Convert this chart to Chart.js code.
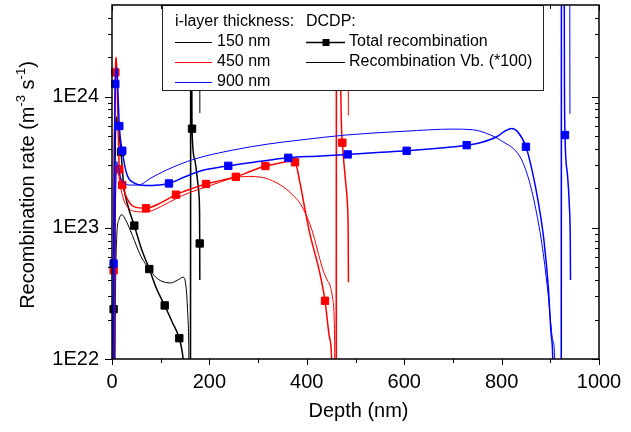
<!DOCTYPE html>
<html><head><meta charset="utf-8">
<script src="https://cdn.jsdelivr.net/npm/chart.js@4.4.1/dist/chart.umd.min.js"></script>
<style>html,body{margin:0;padding:0;background:#fff;}</style>
</head><body>
<canvas id="c" width="631" height="432"></canvas>
<script>
// ---------- DATA (depth in nm, recombination rate in m^-3 s^-1) ----------
const xTickLabels = [0, 200, 400, 600, 800, 1000];
const xMinorTicks = [100, 300, 500, 700, 900];
const yTickValues = [1e22, 1e23, 1e24];
const yTickLabels = ['1E22', '1E23', '1E24'];
const yMinorTicks = [2e22,3e22,4e22,5e22,6e22,7e22,8e22,9e22,2e23,3e23,4e23,5e23,6e23,7e23,8e23,9e23,2e24,3e24,4e24];

const seriesNames = ['150 nm', '450 nm', '900 nm'];

// 150 nm, total recombination
const depth150Total = [0,3.3,5,7,9,12,18.5,24,32,45.8,60,76.6,92,108.2,124,138.2,143,146,150,161,161.7,163.5,163.8,164.3,170,175,178.5,179.8,180.1,180.3];
const rate150Total  = [1e21,2.4e22,1.5e23,5.0e23,7.0e23,6.0e23,3.79e23,2.1e23,1.5e23,1.04e23,7.0e22,4.85e22,3.4e22,2.56e22,1.9e22,1.44e22,1.2e22,1.0e22,6e21,1e21,1e26,1e26,1.5e24,5.7e23,3.3e23,2.4e23,1.8e23,1.3e23,7.6e22,4.0e22];
const marker150 = [3.3,18.5,45.8,76.6,108.2,138.2,164.3,180.1];

// 150 nm, recombination Vb (*100)
const depth150Vb = [0,4,7,10,14,20,28,38,46,60,76.6,90,100,120,135,146,151,155,158,160,161.2,161.7,179.8,180.4];
const rate150Vb  = [1e21,1e21,3e22,9e22,1.15e23,1.26e23,1.15e23,9.5e22,8.0e22,6.0e22,4.85e22,4.2e22,3.95e22,3.8e22,4.0e22,4.2e22,3.8e22,2.4e22,1.0e22,1e21,1e21,1e26,1e26,7.5e23];

// 450 nm, total recombination
const depth450Total = [0,3.3,5,6.8,9,11.5,15,21.1,30,45,69.8,100,131.4,160,193,225,254.3,285,315,345,362,375.8,386,396,406,415,424,437.4,446,451,455,460.5,461,468,469.5,473,479,483,485,485.5];
const rate450Total  = [1e21,4.75e22,5e23,1.53e24,2.0e24,9e23,2.79e23,2.12e23,1.7e23,1.45e23,1.41e23,1.55e23,1.79e23,1.97e23,2.16e23,2.3e23,2.45e23,2.7e23,2.96e23,3.12e23,3.2e23,3.16e23,2.2e23,1.4e23,9.1e22,6.7e22,5.0e22,2.78e22,1.5e22,1.0e22,1e21,1e21,1e26,1e26,1.5e24,4.46e23,2.4e23,1.6e23,9e22,3.85e22];
const marker450 = [3.3,6.8,15,21.1,69.8,131.4,193,254.3,315,375.8,437.4,473];

// 450 nm, recombination Vb (*100)
const depth450Vb = [0,4,7,10,13,18,25,35,50,70,100,131.4,160,193,225,253,280,304,330,352,370,386,400,413,424,434,442,448,453,457,459,460.5,461,484.5,485.3];
const rate450Vb  = [1e21,1e21,1.2e23,2.8e23,2.6e23,2.0e23,1.6e23,1.4e23,1.33e23,1.32e23,1.45e23,1.67e23,1.86e23,2.05e23,2.25e23,2.42e23,2.46e23,2.44e23,2.28e23,2.05e23,1.8e23,1.54e23,1.22e23,9.0e22,6.3e22,4.7e22,4.0e22,3.6e22,2.9e22,1.5e22,1e21,1e21,1e26,1e26,7.2e23];

// 900 nm, total recombination
const depth900Total = [0,3.3,5,6.8,10,12.5,15,21.1,30,45,70,95,117,150,180,238.8,300,362,420,484,545,605,670,728.3,760,790,808,821,833,850,862,875,887,896,902,905,907,922.5,923,928,929,930.2,935,939,941,941.5];
const rate900Total  = [1e21,5.35e22,4e23,1.25e24,1.67e24,1.0e24,5.97e23,3.87e23,2.6e23,2.2e23,2.1e23,2.12e23,2.18e23,2.45e23,2.7e23,2.97e23,3.2e23,3.42e23,3.52e23,3.63e23,3.75e23,3.87e23,4.05e23,4.27e23,4.5e23,4.95e23,5.5e23,5.73e23,5.4e23,4.15e23,2.8e23,1.6e23,8e22,3.5e22,1.5e22,1.0e22,1e21,1e21,1e26,1e26,1.5e24,5.1e23,2.6e23,1.5e23,8e22,4.0e22];
const marker900 = [3.3,6.8,15,21.1,117,238.8,362,484,605,728.3,850,930.2];

// 900 nm, recombination Vb (*100)
const depth900Vb = [0,4,7,10,13,18,25,35,54,80,112,170,249,320,386,480,600,700,740,769,800,838,855,870,884,896,905,909,911,922.5,923,939.5,940.3];
const rate900Vb  = [1e21,1e21,1.5e23,3.2e23,2.9e23,2.4e23,2.2e23,2.12e23,2.12e23,2.4e23,2.76e23,3.35e23,3.92e23,4.35e23,4.67e23,5.1e23,5.45e23,5.66e23,5.6e23,5.25e23,4.6e23,3.47e23,2.4e23,1.4e23,7e22,3e22,1.4e22,1.0e22,1e21,1e21,1e26,1e26,7.4e23];

// ---------- CHART ----------
const FONT = '"Liberation Sans", Arial, sans-serif';
const COL = {black:'#000000', red:'#ff0000', blue:'#0000ff'};
function pts(ds, vs){ return ds.map((d,i)=>({x:d, y:vs[i]})); }
function mk(list){ return (ctx)=> (ctx.raw && list.includes(ctx.raw.x)) ? 5.2 : 0; }

function lineDS(label, d, v, color, width, markers, order){
  return {
    label, data: pts(d, v), borderColor: color, backgroundColor: color,
    borderWidth: width, pointStyle: 'rect',
    pointRadius: markers ? mk(markers) : 0, pointHoverRadius: 0,
    pointBackgroundColor: color, pointBorderColor: color, pointBorderWidth: 1,
    cubicInterpolationMode: 'monotone', fill: false, order,
    clip: {left: 6, top: 0, right: 0, bottom: 0}
  };
}

const decor = {
  id: 'decor',
  afterDatasetsDraw(chart){
    const ctx = chart.ctx, xs = chart.scales.x, ys = chart.scales.y;
    const {left:L, right:R, top:T, bottom:B} = chart.chartArea;
    ctx.save();
    ctx.strokeStyle = '#000'; ctx.lineWidth = 1;
    const hx = (v,len1,len2)=>{ const p = Math.round(xs.getPixelForValue(v))+0.5;
      ctx.beginPath(); ctx.moveTo(p,B); ctx.lineTo(p,B+len1); ctx.stroke();
      ctx.beginPath(); ctx.moveTo(p,T); ctx.lineTo(p,T+len2); ctx.stroke(); };
    xTickLabels.forEach(v=>hx(v,6,6));
    xMinorTicks.forEach(v=>hx(v,4,4));
    const vy = (v,len)=>{ const p = Math.round(ys.getPixelForValue(v))+0.5;
      ctx.beginPath(); ctx.moveTo(L,p); ctx.lineTo(L-len,p); ctx.stroke();
      ctx.beginPath(); ctx.moveTo(R,p); ctx.lineTo(R-len,p); ctx.stroke(); };
    yTickValues.forEach(v=>vy(v,7));
    yMinorTicks.forEach(v=>vy(v,4));

    // legend box
    const lx = 162, ly = T, lw = 381, lh = 85;
    ctx.fillStyle = '#fff'; ctx.fillRect(lx, ly, lw, lh);
    ctx.strokeStyle = '#222'; ctx.lineWidth = 1;
    ctx.strokeRect(lx+0.5, ly+0.5, lw, lh);
    ctx.fillStyle = '#000'; ctx.font = '16px ' + FONT; ctx.textBaseline = 'middle'; ctx.textAlign = 'left';
    ctx.fillText('i-layer thickness:', 175, 22);
    ctx.fillText('DCDP:', 306, 22);
    const cols = [COL.black, COL.red, COL.blue];
    seriesNames.forEach((n,i)=>{
      const y = 42 + i*20;
      ctx.strokeStyle = cols[i]; ctx.lineWidth = 1;
      ctx.beginPath(); ctx.moveTo(175, y+0.5); ctx.lineTo(212, y+0.5); ctx.stroke();
      ctx.fillStyle = '#000'; ctx.fillText(n, 217, y);
    });
    ctx.strokeStyle = '#000'; ctx.lineWidth = 1.5;
    ctx.beginPath(); ctx.moveTo(306, 42.5); ctx.lineTo(345, 42.5); ctx.stroke();
    ctx.fillStyle = '#000'; ctx.fillRect(322.5, 39, 7, 7);
    ctx.fillText('Total recombination', 349, 42);
    ctx.lineWidth = 1;
    ctx.beginPath(); ctx.moveTo(306, 62.5); ctx.lineTo(345, 62.5); ctx.stroke();
    ctx.fillText('Recombination Vb. (*100)', 349, 62);

    // frame
    ctx.strokeStyle = '#000'; ctx.lineWidth = 1.5;
    ctx.strokeRect(L, T, R-L, B-T);

    // tick labels
    ctx.font = '20px ' + FONT; ctx.fillStyle = '#000';
    ctx.textAlign = 'center'; ctx.textBaseline = 'middle';
    xTickLabels.forEach(v=> ctx.fillText(String(v), xs.getPixelForValue(v), 382));
    ctx.textAlign = 'right';
    yTickValues.forEach((v,i)=> ctx.fillText(yTickLabels[i], 99, ys.getPixelForValue(v)));

    // axis titles
    ctx.textAlign = 'center';
    ctx.fillText('Depth (nm)', (L+R)/2 + 3, 411);
    ctx.save();
    ctx.translate(28, (T+B)/2 + 3);
    ctx.rotate(-Math.PI/2);
    const parts = [['Recombination rate (m',0],['-3',1],[' s',0],['-1',1],[')',0]];
    const fM = '20px ' + FONT, fS = '13px ' + FONT;
    let tot = 0;
    parts.forEach(p=>{ ctx.font = p[1]?fS:fM; tot += ctx.measureText(p[0]).width; });
    let cx = -tot/2; ctx.textAlign = 'left';
    parts.forEach(p=>{ ctx.font = p[1]?fS:fM; ctx.fillText(p[0], cx, p[1]?-7:0); cx += ctx.measureText(p[0]).width; });
    ctx.restore();
    ctx.restore();
  }
};

new Chart(document.getElementById('c'), {
  type: 'line',
  data: { datasets: [
    lineDS('900 nm total', depth900Total, rate900Total, COL.blue, 1.5, marker900, 0),
    lineDS('900 nm Vb', depth900Vb, rate900Vb, COL.blue, 1, null, 1),
    lineDS('450 nm total', depth450Total, rate450Total, COL.red, 1.5, marker450, 2),
    lineDS('450 nm Vb', depth450Vb, rate450Vb, COL.red, 1, null, 3),
    lineDS('150 nm total', depth150Total, rate150Total, COL.black, 1.5, marker150, 4),
    lineDS('150 nm Vb', depth150Vb, rate150Vb, COL.black, 1, null, 5)
  ]},
  options: {
    responsive: false, animation: false, maintainAspectRatio: false,
    layout: { padding: {left: 112, right: 32, top: 5, bottom: 73} },
    plugins: { legend: {display: false}, tooltip: {enabled: false} },
    events: [],
    scales: {
      x: { type: 'linear', min: 0, max: 1000, display: false },
      y: { type: 'logarithmic', min: 1e22, max: 5e24, display: false }
    }
  },
  plugins: [decor]
});
</script>
</body></html>
